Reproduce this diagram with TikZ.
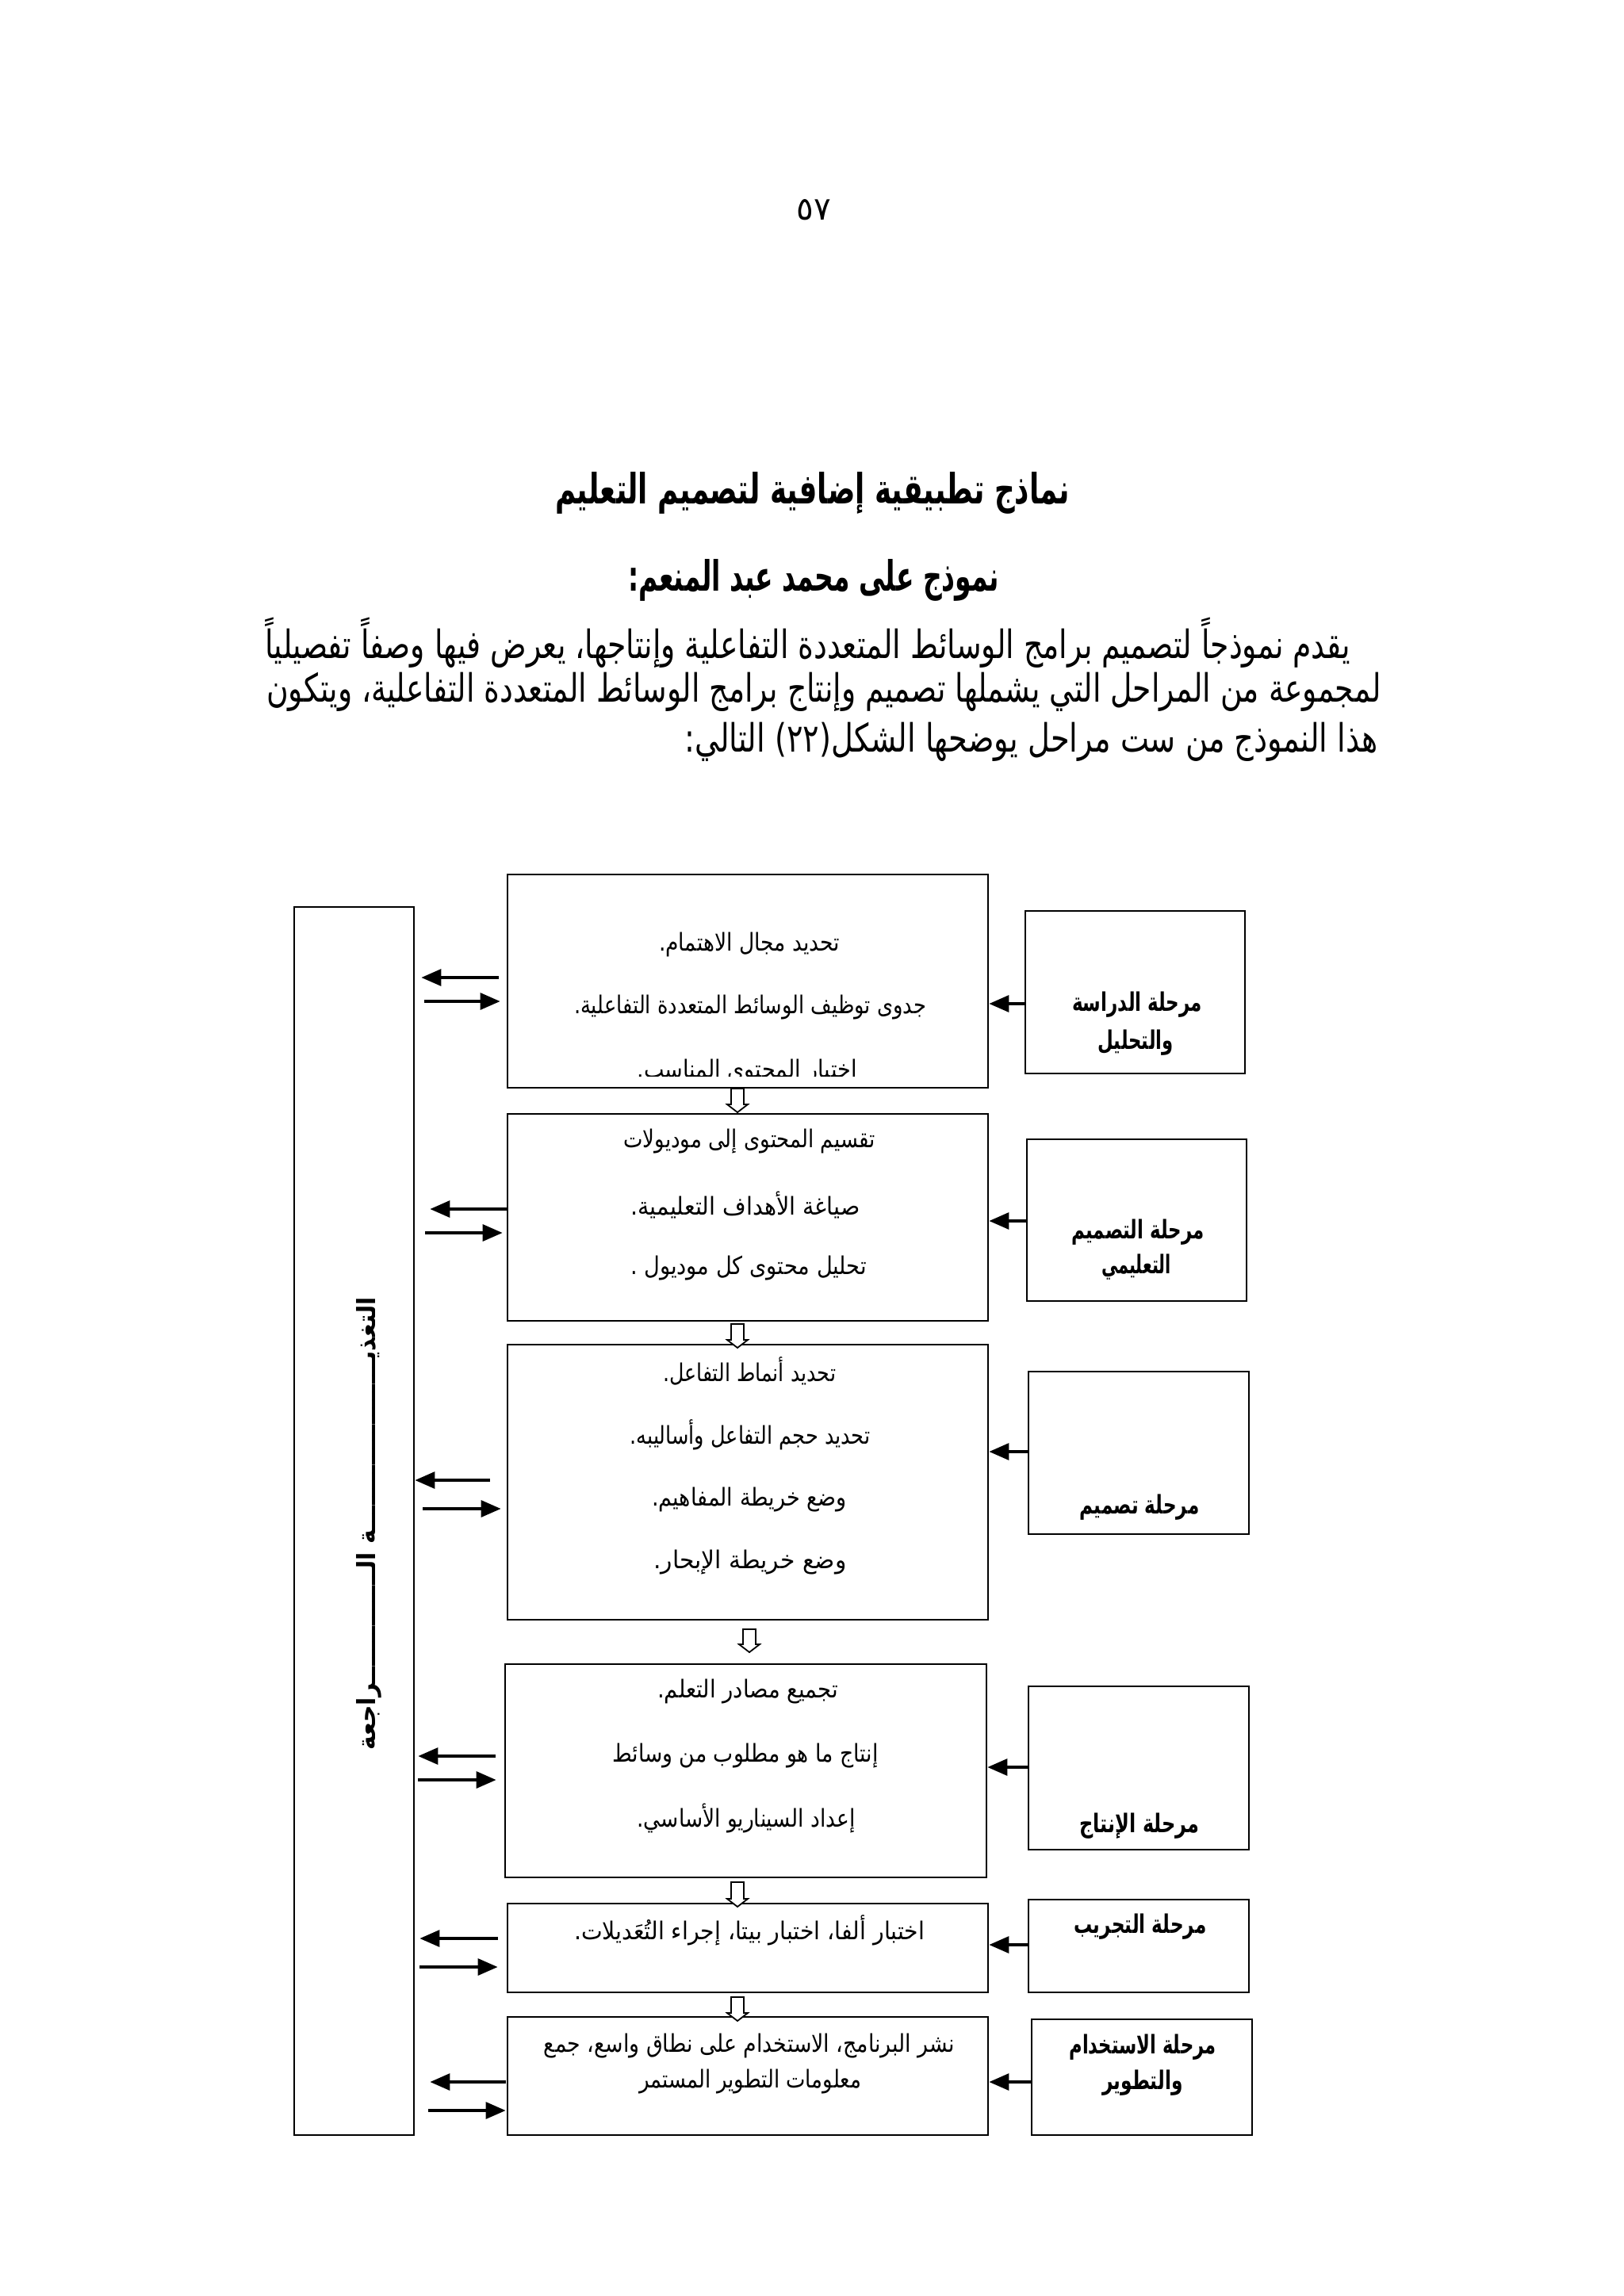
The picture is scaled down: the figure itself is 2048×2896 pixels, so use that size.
\documentclass[tikz,border=0pt]{standalone}
\usepackage{fontspec}
\usepackage{graphicx}
\usetikzlibrary{arrows.meta}
\TeXXeTstate=1
\newfontfamily\arfont[Script=Arabic]{DejaVu Sans}
\newcommand{\fitar}[2]{\resizebox{#1}{\height}{#2}}
\newcommand{\hollowarr}[3]{%
  \draw[hollow] ({#1-8},#2) -- ({#1-8},{#3-10}) -- ({#1-13},{#3-10}) -- (#1,#3)
    -- ({#1+13},{#3-10}) -- ({#1+8},{#3-10}) -- ({#1+8},#2) -- cycle;}
\begin{document}
\begin{tikzpicture}[x=0.1mm,y=-0.1mm,
  box/.style={draw, line width=0.28mm, inner sep=0pt},
  arr/.style={line width=0.32mm, -{Triangle[length=2.5mm,width=2.1mm]}},
  hollow/.style={draw, fill=white, line width=0.18mm, line join=miter},
  btxt/.style={font=\arfont\fontsize{8.8}{10}\selectfont, inner sep=0pt},
  rtxt/.style={font=\arfont\bfseries\fontsize{9.2}{11}\selectfont, inner sep=0pt},
  ptxt/.style={font=\arfont\fontsize{14}{17}\selectfont, inner sep=0pt},
  htxt/.style={font=\arfont\bfseries\fontsize{15}{18}\selectfont, inner sep=0pt},
]
\fill[white] (0,0) rectangle (2048,2896);
\useasboundingbox (0,0) rectangle (2048,2896);

% header texts
\node[font=\arfont\fontsize{11.5}{13}\selectfont, inner sep=0pt] (pg) at (1026,265) {٥٧};
\node[htxt] (title) at (1024.5,622) {\fitar{64.9mm}{\beginR نماذج تطبيقية إضافية لتصميم التعليم\endR}};
\node[htxt] (subtitle) at (1026,732) {\fitar{46.8mm}{\beginR نموذج على محمد عبد المنعم:\endR}};
\node[ptxt, anchor=east] (p1) at (1704,811) {\fitar{136.9mm}{\beginR يقدم نموذجاً لتصميم برامج الوسائط المتعددة التفاعلية وإنتاجها، يعرض فيها وصفاً تفصيلياً\endR}};
\node[ptxt, anchor=east] (p2) at (1742,873) {\fitar{140.5mm}{\beginR لمجموعة من المراحل التي يشملها تصميم وإنتاج برامج الوسائط المتعددة  التفاعلية، ويتكون\endR}};
\node[ptxt, anchor=east] (p3) at (1738,936) {\fitar{87.4mm}{\beginR هذا النموذج من ست مراحل يوضحها الشكل(٢٢) التالي:\endR}};

% feedback box
\node[box, minimum width=15.1mm, minimum height=154.9mm] (fb) at (446.5,1918.5) {};
\node[rotate=90, font=\arfont\bfseries\fontsize{9}{10}\selectfont, inner sep=0pt] (fbt) at (465,1922)
  {\fitar{57.1mm}{\beginR التغذيـــــــــــــــــــــة الــــــــــــــراجعة\endR}};

% main boxes
\node[box, minimum width=60.6mm, minimum height=26.9mm] (b1) at (943,1237.5) {};
\node[box, minimum width=60.6mm, minimum height=26.1mm] (b2) at (943,1535.5) {};
\node[box, minimum width=60.6mm, minimum height=34.7mm] (b3) at (943,1869.5) {};
\node[box, minimum width=60.7mm, minimum height=26.9mm] (b4) at (940.5,2233.5) {};
\node[box, minimum width=60.6mm, minimum height=11.2mm] (b5) at (943,2457) {};
\node[box, minimum width=60.6mm, minimum height=14.9mm] (b6) at (943,2618.5) {};

% right boxes
\node[box, minimum width=27.7mm, minimum height=20.5mm] (r1) at (1431.5,1251.5) {};
\node[box, minimum width=27.7mm, minimum height=20.4mm] (r2) at (1433.5,1539) {};
\node[box, minimum width=27.8mm, minimum height=20.5mm] (r3) at (1436,1832.5) {};
\node[box, minimum width=27.8mm, minimum height=20.6mm] (r4) at (1436,2230) {};
\node[box, minimum width=27.8mm, minimum height=11.7mm] (r5) at (1436,2454.5) {};
\node[box, minimum width=27.8mm, minimum height=14.6mm] (r6) at (1440,2620) {};

% main box texts
\node[btxt] (b1a) at (945,1191) {\fitar{22.8mm}{\beginR تحديد مجال الاهتمام.\endR}};
\node[btxt] (b1b) at (946,1271) {\fitar{44.4mm}{\beginR جدوى توظيف الوسائط المتعددة التفاعلية.\endR}};
\begin{scope}
  \clip (640,1300) rectangle (1246,1357);
  \node[btxt] (b1c) at (942,1352) {\fitar{27.7mm}{\beginR اختيار المحتوى المناسب.\endR}};
\end{scope}
\node[btxt] (b2a) at (945,1440) {\fitar{31.7mm}{\beginR تقسيم المحتوى إلى موديولات\endR}};
\node[btxt] (b2b) at (940,1520) {\fitar{28.9mm}{\beginR صياغة الأهداف التعليمية.\endR}};
\node[btxt] (b2c) at (944,1600) {\fitar{29.8mm}{\beginR تحليل محتوى كل موديول .\endR}};
\node[btxt] (b3a) at (945,1729) {\fitar{21.8mm}{\beginR تحديد أنماط التفاعل.\endR}};
\node[btxt] (b3b) at (946,1810) {\fitar{30.3mm}{\beginR تحديد حجم التفاعل وأساليبه.\endR}};
\node[btxt] (b3c) at (945,1892) {\fitar{24.6mm}{\beginR وضع خريطة المفاهيم.\endR}};
\node[btxt] (b3d) at (946,1971) {\fitar{24.3mm}{\beginR وضع خريطة الإبحار.\endR}};
\node[btxt] (b4a) at (943,2133) {\fitar{22.8mm}{\beginR تجميع مصادر التعلم.\endR}};
\node[btxt] (b4b) at (940,2214) {\fitar{33.5mm}{\beginR إنتاج ما هو مطلوب من وسائط\endR}};
\node[btxt] (b4c) at (941,2293) {\fitar{27.5mm}{\beginR إعداد السيناريو الأساسي.\endR}};
\node[btxt] (b5a) at (945,2435) {\fitar{44.2mm}{\beginR اختبار ألفا، اختبار بيتا، إجراء التُعَديلات.\endR}};
\node[btxt] (b6a) at (945,2580) {\fitar{51.8mm}{\beginR نشر البرنامج، الاستخدام على نطاق واسع، جمع\endR}};
\node[btxt] (b6b) at (946,2625) {\fitar{28.0mm}{\beginR معلومات التطوير المستمر\endR}};

% right box texts
\node[rtxt] (r1a) at (1434,1267) {\fitar{16.4mm}{\beginR مرحلة الدراسة\endR}};
\node[rtxt] (r1b) at (1432,1315) {\fitar{9.5mm}{\beginR والتحليل\endR}};
\node[rtxt] (r2a) at (1435,1554) {\fitar{16.7mm}{\beginR مرحلة التصميم\endR}};
\node[rtxt] (r2b) at (1433,1598) {\fitar{8.8mm}{\beginR التعليمي\endR}};
\node[rtxt] (r3a) at (1437,1901) {\fitar{15.1mm}{\beginR مرحلة تصميم\endR}};
\node[rtxt] (r4a) at (1437,2303) {\fitar{15.1mm}{\beginR مرحلة الإنتاج\endR}};
\node[rtxt] (r5a) at (1438,2430) {\fitar{16.7mm}{\beginR مرحلة التجريب\endR}};
\node[rtxt] (r6a) at (1441,2582) {\fitar{18.5mm}{\beginR مرحلة الاستخدام\endR}};
\node[rtxt] (r6b) at (1441,2627) {\fitar{10.1mm}{\beginR والتطوير\endR}};

% arrows from right boxes
\draw[arr] (r1.west |- 0,1266) -- (b1.east |- 0,1266);
\draw[arr] (r2.west |- 0,1540) -- (b2.east |- 0,1540);
\draw[arr] (r3.west |- 0,1831) -- (b3.east |- 0,1831);
\draw[arr] (r4.west |- 0,2229) -- (b4.east |- 0,2229);
\draw[arr] (r5.west |- 0,2453) -- (b5.east |- 0,2453);
\draw[arr] (r6.west |- 0,2626) -- (b6.east |- 0,2626);

% feedback arrows
\draw[arr, shorten <=1mm, shorten >=0.8mm] (b1.west |- 0,1233) -- (fb.east |- 0,1233);
\draw[arr, shorten <=1.2mm, shorten >=0.8mm] (fb.east |- 0,1263) -- (b1.west |- 0,1263);
\draw[arr, shorten <=0mm, shorten >=1.9mm] (b2.west |- 0,1525) -- (fb.east |- 0,1525);
\draw[arr, shorten <=1.3mm, shorten >=0.5mm] (fb.east |- 0,1555) -- (b2.west |- 0,1555);
\draw[arr, shorten <=2.1mm, shorten >=0mm] (b3.west |- 0,1867) -- (fb.east |- 0,1867);
\draw[arr, shorten <=1mm, shorten >=0.7mm] (fb.east |- 0,1903) -- (b3.west |- 0,1903);
\draw[arr, shorten <=1.1mm, shorten >=0.4mm] (b4.west |- 0,2215) -- (fb.east |- 0,2215);
\draw[arr, shorten <=0.4mm, shorten >=1mm] (fb.east |- 0,2245) -- (b4.west |- 0,2245);
\draw[arr, shorten <=1.1mm, shorten >=0.6mm] (b5.west |- 0,2445) -- (fb.east |- 0,2445);
\draw[arr, shorten <=0.6mm, shorten >=1.1mm] (fb.east |- 0,2481) -- (b5.west |- 0,2481);
\draw[arr, shorten <=0.1mm, shorten >=1.9mm] (b6.west |- 0,2626) -- (fb.east |- 0,2626);
\draw[arr, shorten <=1.7mm, shorten >=0.1mm] (fb.east |- 0,2662) -- (b6.west |- 0,2662);

% hollow arrows between stages
\hollowarr{930}{1373}{1403}
\hollowarr{930}{1670}{1700}
\hollowarr{945}{2055}{2084}
\hollowarr{930}{2374}{2405}
\hollowarr{930}{2519}{2549}
\end{tikzpicture}
\end{document}
